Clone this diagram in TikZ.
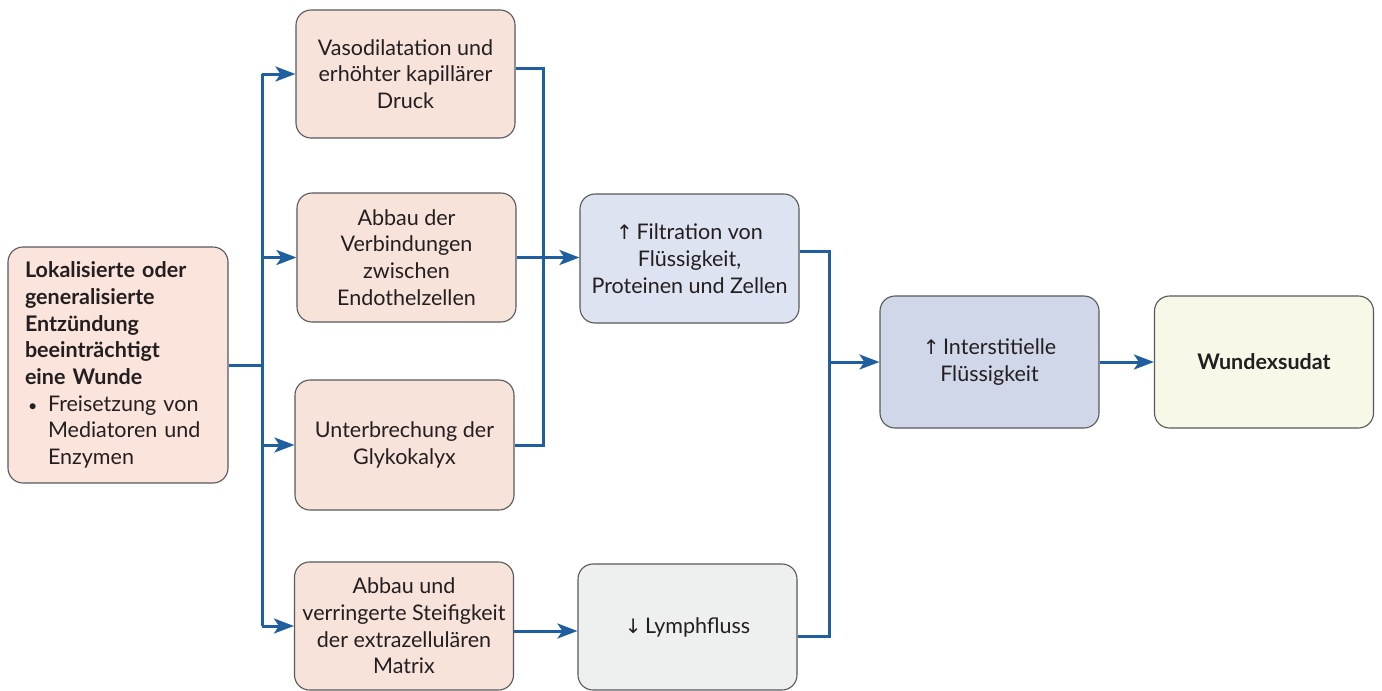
\documentclass[tikz,border=0pt]{standalone}
\usepackage{fontspec}
\setmainfont{Lato}
\newfontfamily\symf{DejaVu Sans}
\usetikzlibrary{arrows.meta}
\definecolor{txt}{HTML}{231F20}
\definecolor{edge}{HTML}{58585A}
\definecolor{link}{HTML}{1F5FA0}
\definecolor{peach}{HTML}{F8E3DA}
\definecolor{peachL}{HTML}{FBE4DB}
\definecolor{filt}{HTML}{DDE3F1}
\definecolor{inter}{HTML}{CFD7E9}
\definecolor{lymph}{HTML}{EDF0EE}
\definecolor{wund}{HTML}{F8F8E8}
\newcommand{\up}{{\symf\fontsize{20}{20}\selectfont\char"2191}\,}
\newcommand{\down}{{\symf\fontsize{20}{20}\selectfont\char"2193}\,}
\begin{document}
\begin{tikzpicture}[x=1pt,y=-1pt,
  box/.style={draw=edge, line width=1.1pt, rounded corners=15pt, minimum width=219pt, minimum height=128pt,
    align=center, text=txt, font=\fontsize{21.5}{26.7}\selectfont, inner sep=4pt},
  conn/.style={draw=link, line width=3pt},
  arr/.style={conn, -{Stealth[length=20pt,width=15pt,inset=5pt]}}]
\useasboundingbox (0,0) rectangle (1382,691);
\node[box, fill=peachL, minimum width=220pt, minimum height=236pt, text width=186pt, align=left] (L) at (118,365)
 {\textbf{Lokalisierte oder}\\ \textbf{generalisierte}\\ \textbf{Entzündung}\\ \textbf{beeinträchtigt}\\ \textbf{eine Wunde}\\
  \makebox[23pt][l]{\hspace{3pt}{\fontsize{16}{20}\selectfont•}}Freisetzung von\\ \hspace*{23pt}Mediatoren und\\ \hspace*{23pt}Enzymen};
\node[box, fill=peach] (V) at (405.5,74) {Vasodilatation und\\ erhöhter kapillärer\\ Druck};
\node[box, fill=peach, minimum height=129pt] (A) at (406.5,257.5) {Abbau der\\ Verbindungen\\ zwischen\\ Endothelzellen};
\node[box, fill=peach, minimum height=130pt] (U) at (404.5,445) {Unterbrechung der\\ Glykokalyx};
\node[box, fill=peach] (M) at (404,626) {Abbau und\\ verringerte Steifigkeit\\ der extrazellulären\\ Matrix};
\node[box, fill=filt, minimum height=129pt] (F) at (689.5,258.5) {\up Filtration von\\ Flüssigkeit,\\ Proteinen und Zellen};
\node[box, fill=lymph, minimum height=126pt] (Ly) at (687.5,627) {\down Lymphfluss};
\node[box, fill=inter, minimum height=132pt] (I) at (989.5,362) {\up Interstitielle\\ Flüssigkeit};
\node[box, fill=wund, minimum height=132pt] (W) at (1264,362) {\textbf{Wundexsudat}};
\coordinate (t) at (262,365);
\coordinate (c) at (543,257.5);
\coordinate (d) at (829,362);
% trunk from left box
\draw[conn] (L.east) -- (t);
\draw[conn] (t |- V.west) -- (t |- M.west);
\draw[arr] (t |- V.west) -- (V.west);
\draw[arr] (t |- A.west) -- (A.west);
\draw[arr] (t |- U.west) -- (U.west);
\draw[arr] (t |- M.west) -- (M.west);
% collector to filtration
\draw[conn] ([yshift=6pt]V.east) -| (c) |- (U.east);
\draw[arr] (A.east) -- (A.east -| F.west);
% matrix to lymph
\draw[arr] ([yshift=-5pt]M.east) -- ([yshift=-5pt]M.east -| Ly.west);
% collector to interstitial
\draw[conn] ([yshift=7pt]F.east) -| (d) |- ([yshift=-9pt]Ly.east);
\draw[arr] (d) -- (I.west);
\draw[arr] (I.east) -- (W.west);
\end{tikzpicture}
\end{document}
